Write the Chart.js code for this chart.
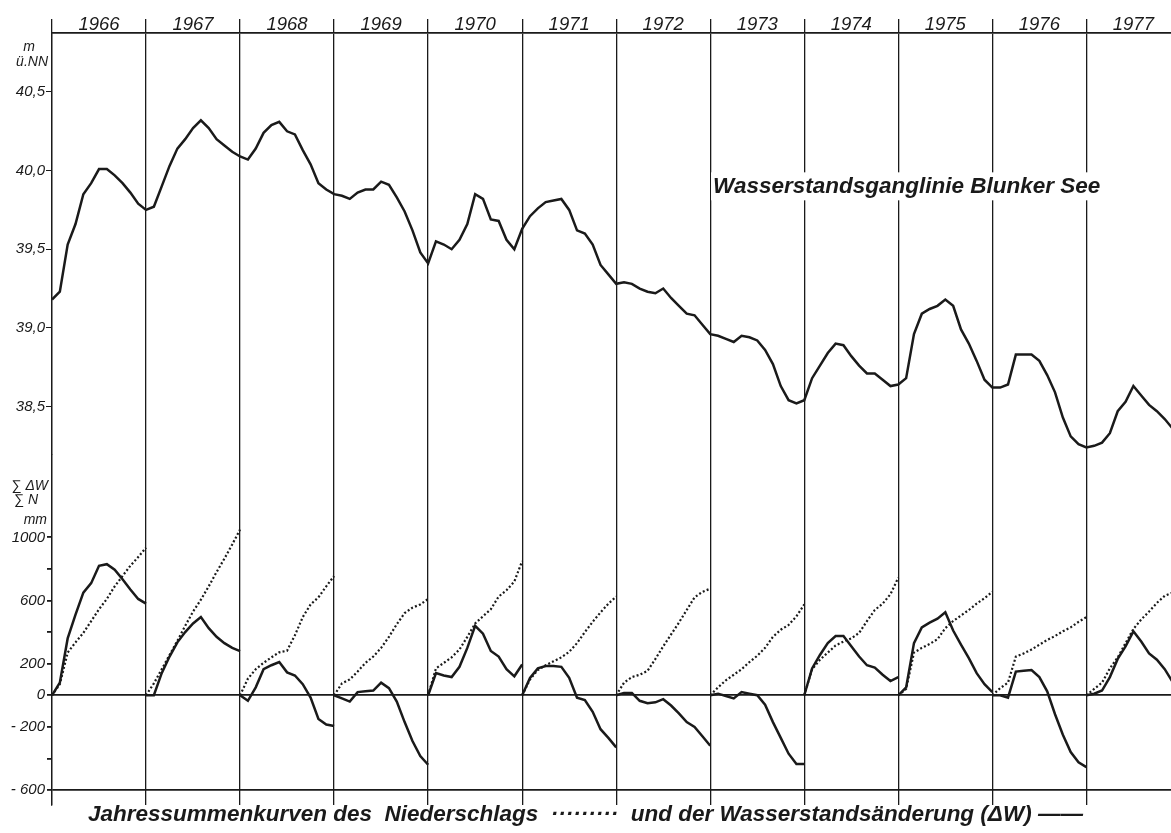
<!DOCTYPE html>
<html>
<head>
<meta charset="utf-8">
<script src="https://cdn.jsdelivr.net/npm/chart.js@4/dist/chart.umd.min.js"></script>
<style>
  html, body { margin: 0; padding: 0; background: #fff; }
  #wrap { width: 1171px; height: 833px; }
</style>
</head>
<body>
<div id="wrap"><canvas id="chart"></canvas></div>
<script>
'use strict';

// Jahre (Trennlinien und Beschriftung oben)
var jahre = [1966, 1967, 1968, 1969, 1970, 1971, 1972, 1973, 1974, 1975, 1976, 1977];

// Wasserstand Blunker See, m ü.NN, Monatswerte je Jahr
var pegel = [
    [39.18, 39.23, 39.53, 39.66, 39.85, 39.92, 40.01, 40.01, 39.97, 39.92, 39.86, 39.79],
    [39.75, 39.77, 39.90, 40.03, 40.14, 40.20, 40.27, 40.32, 40.27, 40.20, 40.16, 40.12],
    [40.09, 40.07, 40.14, 40.24, 40.29, 40.31, 40.25, 40.23, 40.13, 40.04, 39.92, 39.88],
    [39.85, 39.84, 39.82, 39.86, 39.88, 39.88, 39.93, 39.91, 39.83, 39.74, 39.62, 39.48],
    [39.41, 39.55, 39.53, 39.50, 39.56, 39.66, 39.85, 39.82, 39.69, 39.68, 39.56, 39.50],
    [39.63, 39.71, 39.76, 39.80, 39.81, 39.82, 39.75, 39.62, 39.60, 39.53, 39.40, 39.34],
    [39.28, 39.29, 39.28, 39.25, 39.23, 39.22, 39.25, 39.19, 39.14, 39.09, 39.08, 39.02],
    [38.96, 38.95, 38.93, 38.91, 38.95, 38.94, 38.92, 38.86, 38.77, 38.63, 38.54, 38.52],
    [38.54, 38.68, 38.76, 38.84, 38.90, 38.89, 38.82, 38.76, 38.71, 38.71, 38.67, 38.63],
    [38.64, 38.68, 38.96, 39.09, 39.12, 39.14, 39.18, 39.14, 38.99, 38.90, 38.79, 38.67],
    [38.62, 38.62, 38.64, 38.83, 38.83, 38.83, 38.79, 38.70, 38.59, 38.43, 38.31, 38.26],
    [38.24, 38.25, 38.27, 38.33, 38.47, 38.53, 38.63, 38.57, 38.51, 38.47, 38.42, 38.36]
];

// Jahressummenkurve des Niederschlags, mm (Jahresanfang bis Jahresende)
var niederschlag = [
    [0, 70, 270, 335, 395, 470, 545, 610, 690, 755, 820, 875, 935],
    [0, 75, 165, 255, 345, 440, 530, 605, 690, 780, 865, 955, 1050],
    [0, 105, 165, 205, 240, 272, 282, 380, 495, 575, 620, 690, 755],
    [0, 75, 100, 150, 205, 245, 300, 370, 450, 520, 555, 575, 610],
    [0, 170, 205, 240, 290, 370, 455, 500, 545, 625, 665, 720, 850],
    [0, 100, 160, 190, 215, 240, 275, 330, 400, 465, 525, 580, 625],
    [0, 80, 115, 130, 155, 230, 310, 385, 460, 540, 620, 655, 675],
    [0, 50, 95, 130, 165, 210, 250, 300, 370, 415, 445, 500, 575],
    [0, 165, 225, 270, 315, 340, 360, 395, 470, 540, 580, 640, 745],
    [0, 40, 270, 300, 325, 355, 425, 470, 505, 540, 580, 615, 655],
    [0, 45, 80, 245, 265, 290, 320, 350, 375, 405, 430, 465, 495],
    [0, 40, 80, 170, 240, 330, 420, 480, 530, 585, 630, 650]
];

// Jahressummenkurve der Wasserstandsaenderung (Delta W), mm
var deltaW = [
    [0, 80, 360, 510, 650, 710, 820, 830, 795, 735, 670, 610, 580],
    [0, 0, 140, 245, 335, 400, 455, 495, 425, 370, 330, 300, 280],
    [0, -35, 50, 165, 190, 210, 145, 125, 70, -15, -150, -185, -195],
    [0, -20, -40, 20, 25, 30, 80, 45, -40, -170, -290, -385, -440],
    [0, 140, 125, 115, 180, 300, 440, 390, 280, 245, 165, 120, 195],
    [0, 110, 170, 185, 185, 180, 110, -15, -30, -105, -215, -270, -330],
    [0, 15, 15, -35, -50, -45, -25, -65, -115, -170, -200, -260, -320],
    [0, 10, -5, -20, 20, 10, 0, -60, -170, -270, -370, -435, -435],
    [0, 170, 255, 330, 375, 375, 310, 245, 190, 175, 130, 90, 115],
    [0, 50, 330, 430, 460, 485, 525, 410, 320, 235, 140, 70, 20],
    [0, 0, -15, 150, 155, 160, 115, 25, -120, -250, -360, -425, -455],
    [0, 10, 30, 115, 230, 310, 405, 340, 265, 225, 165, 85]
];

// Achsenteilungen
var pegelTicks = [38.5, 39.0, 39.5, 40.0, 40.5];
var summenTicks = [-600, -400, -200, 0, 200, 400, 600, 800, 1000];
var summenLabels = [-600, -200, 0, 200, 600, 1000];

var schwarz = '#1a1a1a';
var schrift = 'Liberation Sans, Arial, sans-serif';

function monatsPunkte(reihen, mitLuecke) {
    var pts = [];
    reihen.forEach(function (werte, i) {
        werte.forEach(function (v, m) {
            pts.push({ x: jahre[i] + m / 12, y: v });
        });
        if (mitLuecke) {
            pts.push({ x: jahre[i] + 1, y: null });
        }
    });
    return pts;
}

var beschriftung = {
    id: 'beschriftung',
    afterDraw: function (chart) {
        var ctx = chart.ctx;
        var x = chart.scales.x, yP = chart.scales.yP, yS = chart.scales.yS;
        ctx.save();

        // Titel im Diagramm
        var titel = 'Wasserstandsganglinie Blunker See';
        ctx.font = 'italic bold 22.5px ' + schrift;
        var tx = x.getPixelForValue(1973.03);
        var ty = yP.getPixelForValue(39.9);
        var w = ctx.measureText(titel).width;
        ctx.fillStyle = '#fff';
        ctx.fillRect(tx - 2, ty - 14, w + 4, 28);
        ctx.fillStyle = schwarz;
        ctx.textBaseline = 'middle';
        ctx.textAlign = 'left';
        ctx.fillText(titel, tx, ty);

        // Achsentitel links
        ctx.font = 'italic 14px ' + schrift;
        ctx.textAlign = 'right';
        var top = yP.getPixelForValue(40.5);
        ctx.fillText('m', 35, top - 45);
        ctx.fillText('ü.NN', 48, top - 30);

        var s = yS.getPixelForValue(1000);
        ctx.fillText('∑ ΔW', 48, s - 51);
        ctx.fillText('∑ N', 38, s - 37);
        ctx.fillText('mm', 47, s - 17);
        ctx.restore();
    }
};

var ctx = document.getElementById('chart');

new Chart(ctx, {
    type: 'line',
    data: {
        datasets: [
            {
                label: 'Wasserstand',
                data: monatsPunkte(pegel, false),
                yAxisID: 'yP',
                borderColor: schwarz,
                borderWidth: 2.5,
                pointRadius: 0,
                tension: 0
            },
            {
                label: 'Niederschlag',
                data: monatsPunkte(niederschlag, true),
                yAxisID: 'yS',
                borderColor: schwarz,
                borderWidth: 2.2,
                borderDash: [2, 2.2],
                pointRadius: 0,
                spanGaps: false,
                tension: 0
            },
            {
                label: 'Wasserstandsänderung',
                data: monatsPunkte(deltaW, true),
                yAxisID: 'yS',
                borderColor: schwarz,
                borderWidth: 2.5,
                pointRadius: 0,
                spanGaps: false,
                tension: 0
            }
        ]
    },
    options: {
        responsive: true,
        maintainAspectRatio: false,
        animation: false,
        events: [],
        layout: { padding: 0 },
        scales: {
            x: {
                type: 'linear',
                position: 'top',
                min: 1966,
                max: 1977.9,
                afterBuildTicks: function (axis) {
                    axis.ticks = jahre.map(function (j) { return { value: j }; });
                },
                afterFit: function (axis) { axis.height = 33; },
                ticks: {
                    autoSkip: false,
                    maxRotation: 0,
                    labelOffset: 47,
                    padding: -17,
                    color: schwarz,
                    font: { family: schrift, size: 18.5, style: 'italic' },
                    callback: function (v) { return String(v); }
                },
                grid: {
                    color: schwarz,
                    lineWidth: 1.3,
                    tickLength: 14,
                    tickColor: schwarz
                },
                border: { display: true, color: schwarz, width: 1.8 }
            },
            yS: {
                type: 'linear',
                position: 'left',
                stack: 'links',
                stackWeight: 351,
                weight: 0,
                min: -695,
                max: 1525,
                afterBuildTicks: function (axis) {
                    axis.ticks = summenTicks.map(function (v) { return { value: v }; });
                },
                afterFit: function (axis) { axis.width = 52; },
                ticks: {
                    padding: 2,
                    color: schwarz,
                    font: { family: schrift, size: 15, style: 'italic' },
                    callback: function (v) {
                        if (summenLabels.indexOf(v) < 0) return '';
                        return v < 0 ? '- ' + Math.abs(v) : String(v);
                    }
                },
                grid: {
                    color: function (c) {
                        return (c.tick && (c.tick.value === 0 || c.tick.value === -600)) ? schwarz : 'rgba(0,0,0,0)';
                    },
                    lineWidth: 1.8,
                    tickLength: 5,
                    tickColor: schwarz
                },
                border: { display: true, color: schwarz, width: 1.3 }
            },
            yP: {
                type: 'linear',
                position: 'left',
                stack: 'links',
                stackWeight: 422,
                weight: 1,
                min: 38.195,
                max: 40.875,
                afterBuildTicks: function (axis) {
                    axis.ticks = pegelTicks.map(function (v) { return { value: v }; });
                },
                afterFit: function (axis) { axis.width = 52; },
                ticks: {
                    padding: 1,
                    color: schwarz,
                    font: { family: schrift, size: 15, style: 'italic' },
                    callback: function (v) { return v.toFixed(1).replace('.', ','); }
                },
                grid: {
                    drawOnChartArea: false,
                    tickLength: 6,
                    tickColor: schwarz
                },
                border: { display: true, color: schwarz, width: 1.3 }
            }
        },
        plugins: {
            legend: { display: false },
            tooltip: { enabled: false },
            title: {
                display: true,
                position: 'bottom',
                text: 'Jahressummenkurven des  Niederschlags  ·········  und der Wasserstandsänderung (ΔW) ——',
                color: schwarz,
                font: { family: schrift, size: 22.5, weight: 'bold', style: 'italic' },
                padding: { top: -4, bottom: 5 }
            }
        }
    },
    plugins: [beschriftung]
});
</script>
</body>
</html>
